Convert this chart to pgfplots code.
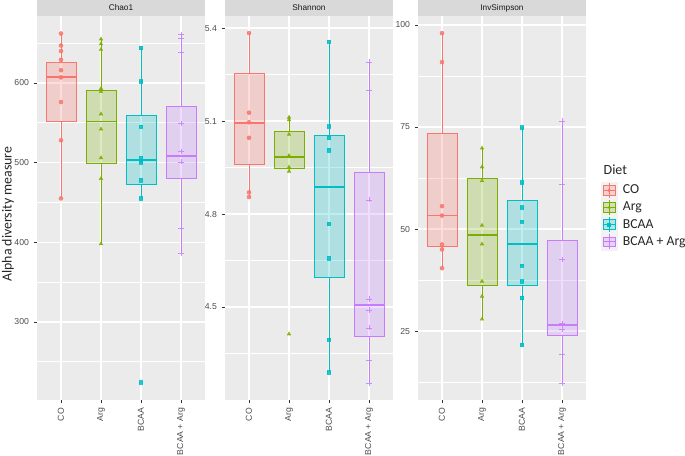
\documentclass[border=0pt]{standalone}
\usepackage{fontspec}
\setmainfont{Liberation Sans}
\newfontfamily\carlito{Carlito}
\usepackage{pgfplots}
\pgfplotsset{compat=1.18}

\definecolor{cCO}{HTML}{F8766D}
\definecolor{cArg}{HTML}{7CAE00}
\definecolor{cBCAA}{HTML}{00BFC4}
\definecolor{cBA}{HTML}{C77CFF}
\definecolor{panelbg}{HTML}{EBEBEB}
\definecolor{stripbg}{HTML}{D9D9D9}
\definecolor{keybg}{HTML}{F2F2F2}
\definecolor{ticktext}{HTML}{4D4D4D}

\pgfplotsset{
  facet/.style={
    scale only axis, width=126pt, height=288pt,
    xmin=0.4, xmax=4.6,
    xtick={1,2,3,4}, xticklabels={CO,Arg,BCAA,BCAA + Arg},
    axis background/.style={fill=panelbg},
    axis line style={draw=none},
    grid=both,
    major grid style={white, line width=1pt},
    minor grid style={white, line width=0.5pt},
    tick align=outside, tick pos=left,
    major tick length=2.5pt, minor tick length=0pt,
    tick style={black!80, line width=0.5pt},
    /pgf/number format/assume math mode=true,
    tick label style={font=\fontsize{6.5}{7}\selectfont, text=ticktext},
    x tick label style={rotate=90, anchor=east},
    every axis title/.style={at={(0.5,1)}, anchor=south, fill=stripbg,
      minimum width=126pt, minimum height=12pt, inner sep=0pt,
      text height=4.6pt, text depth=0pt,
      font=\fontsize{6.2}{7}\selectfont, text=black!90},
  },
  pts/.style={only marks, mark size=1.5pt, opacity=0.85},
}

% box left, position, box right, colour, lower whisker, Q1, median, Q3, upper whisker
\newcommand{\bx}[9]{%
  \addplot[draw=#4, fill=#4, fill opacity=0.25, line width=0.7pt]
    coordinates {(#1,#6) (#3,#6) (#3,#8) (#1,#8)} -- cycle;
  \addplot[#4, line width=0.7pt] coordinates {(#2,#5) (#2,#6)};
  \addplot[#4, line width=0.7pt] coordinates {(#2,#8) (#2,#9)};
  \addplot[#4, line width=1.4pt] coordinates {(#1,#7) (#3,#7)};
}

\newcommand{\dietkey}[2]{\addlegendimage{legend image code/.code={%
  \fill[keybg] (0pt,-6.2pt) rectangle (12pt,6.2pt);
  \draw[#1, fill=#1, fill opacity=0.25, line width=0.6pt] (1.5pt,-3.5pt) rectangle (10.5pt,3.5pt);
  \draw[#1, line width=0.6pt] (6pt,-5.5pt) -- (6pt,5.5pt);
  \draw[#1, line width=0.9pt] (1.5pt,0pt) -- (10.5pt,0pt);
  \draw[#1, fill=#1] plot[mark=#2, mark size=1.1pt] coordinates {(6pt,0pt)};}}}

\begin{document}
\begin{tikzpicture}
\useasboundingbox (0,0) rectangle (513.75pt,341.25pt);

% ---- Chao1
\begin{axis}[facet, at={(27.75pt,41.25pt)}, anchor=south west,
  title={Chao1}, ymin=202, ymax=684,
  ytick={300,400,500,600}, minor ytick={250,350,450,550,650},
  ylabel={Alpha diversity measure},
  every axis y label/.style={at={(axis description cs:-0.173,0.484)}, rotate=90,
    anchor=center, font=\fontsize{10.4}{12}\carlito, text=black!85}]
\bx{0.625}{1}{1.375}{cCO}{455}{552}{607}{626}{662}
\bx{1.625}{2}{2.375}{cArg}{398}{499}{551.5}{590}{655}
\bx{2.625}{3}{3.375}{cBCAA}{455}{472}{503}{559}{644}
\bx{3.625}{4}{4.375}{cBA}{386}{480}{508}{571}{661.5}
\addplot[pts, mark=*, cCO] coordinates {(1,662) (1,647) (1,640) (1,629) (1,616) (1,607) (1,576) (1,528) (1,455)};
\addplot[pts, mark=triangle*, cArg] coordinates {(2,655) (2,649) (2,642) (2,593) (2,589) (2,561) (2,542) (2,506) (2,480) (2,398)};
\addplot[pts, mark=square*, cBCAA, mark size=1.3pt] coordinates {(3,644) (3,602) (3,545) (3,506) (3,502) (3,500) (3,478) (3,455) (3,224)};
\addplot[pts, mark=+, cBA, mark size=2pt] coordinates {(4,661) (4,656) (4,638) (4,549) (4,514) (4,501) (4,417) (4,386)};
\end{axis}

% ---- Shannon
\begin{axis}[facet, at={(168.75pt,41.25pt)}, anchor=south west,
  title={Shannon}, ymin=4.2, ymax=5.439,
  ytick={4.5,4.8,5.1,5.4}, yticklabels={4.5,4.8,5.1,5.4},
  minor ytick={4.35,4.65,4.95,5.25}]
\bx{0.625}{1}{1.375}{cCO}{4.855}{4.959}{5.093}{5.255}{5.384}
\bx{1.625}{2}{2.375}{cArg}{4.938}{4.947}{4.985}{5.067}{5.115}
\bx{2.625}{3}{3.375}{cBCAA}{4.289}{4.594}{4.886}{5.054}{5.356}
\bx{3.625}{4}{4.375}{cBA}{4.254}{4.406}{4.507}{4.934}{5.291}
\addplot[pts, mark=*, cCO] coordinates {(1,5.384) (1,5.127) (1,5.096) (1,5.046) (1,4.870) (1,4.855)};
\addplot[pts, mark=triangle*, cArg] coordinates {(2,5.112) (2,5.104) (2,5.057) (2,4.988) (2,4.985) (2,4.951) (2,4.938) (2,4.413)};
\addplot[pts, mark=square*, cBCAA, mark size=1.3pt] coordinates {(3,5.356) (3,5.083) (3,5.046) (3,5.006) (3,4.768) (3,4.658) (3,4.395) (3,4.289)};
\addplot[pts, mark=+, cBA, mark size=2pt] coordinates {(4,5.291) (4,5.198) (4,4.846) (4,4.526) (4,4.490) (4,4.433) (4,4.329) (4,4.254)};
\end{axis}

% ---- InvSimpson
\begin{axis}[facet, at={(313.5pt,41.25pt)}, anchor=south west,
  title={InvSimpson}, ymin=8.1, ymax=102.2,
  ytick={25,50,75,100}, minor ytick={12.5,37.5,62.5,87.5},
  legend cell align=left,
  legend style={at={(axis description cs:1.089,0.568)}, anchor=north west,
    draw=none, fill=none, inner sep=0pt, outer sep=0pt, row sep=0pt,
    nodes={inner sep=0pt, font=\fontsize{10.3}{12}\carlito, text=black!85},
    /tikz/every odd column/.append style={column sep=4pt}},
  extra description/.code={\node[anchor=west, font=\fontsize{10.5}{12}\carlito, text=black!85]
    at (1.077,0.599) {Diet};}]
\dietkey{cCO}{*}\addlegendentry{CO}
\dietkey{cArg}{triangle*}\addlegendentry{Arg}
\dietkey{cBCAA}{square*}\addlegendentry{BCAA}
\dietkey{cBA}{+}\addlegendentry{BCAA + Arg}
\bx{0.625}{1}{1.375}{cCO}{40.4}{45.7}{53.3}{73.3}{98.0}
\bx{1.625}{2}{2.375}{cArg}{27.9}{36.2}{48.5}{62.4}{69.8}
\bx{2.625}{3}{3.375}{cBCAA}{21.6}{36.2}{46.4}{56.9}{74.9}
\bx{3.625}{4}{4.375}{cBA}{12.2}{23.8}{26.5}{47.1}{76.5}
\addplot[pts, mark=*, cCO] coordinates {(1,98.0) (1,90.9) (1,55.6) (1,53.3) (1,46.2) (1,45.0) (1,40.4)};
\addplot[pts, mark=triangle*, cArg] coordinates {(2,69.8) (2,65.2) (2,61.8) (2,50.9) (2,46.3) (2,37.2) (2,33.5) (2,27.9)};
\addplot[pts, mark=square*, cBCAA, mark size=1.3pt] coordinates {(3,74.9) (3,61.4) (3,55.3) (3,51.8) (3,41.0) (3,37.2) (3,33.1) (3,21.6)};
\addplot[pts, mark=+, cBA, mark size=2pt] coordinates {(4,76.5) (4,61.0) (4,42.6) (4,26.9) (4,26.3) (4,25.4) (4,19.2) (4,12.2)};
\end{axis}
\end{tikzpicture}
\end{document}
